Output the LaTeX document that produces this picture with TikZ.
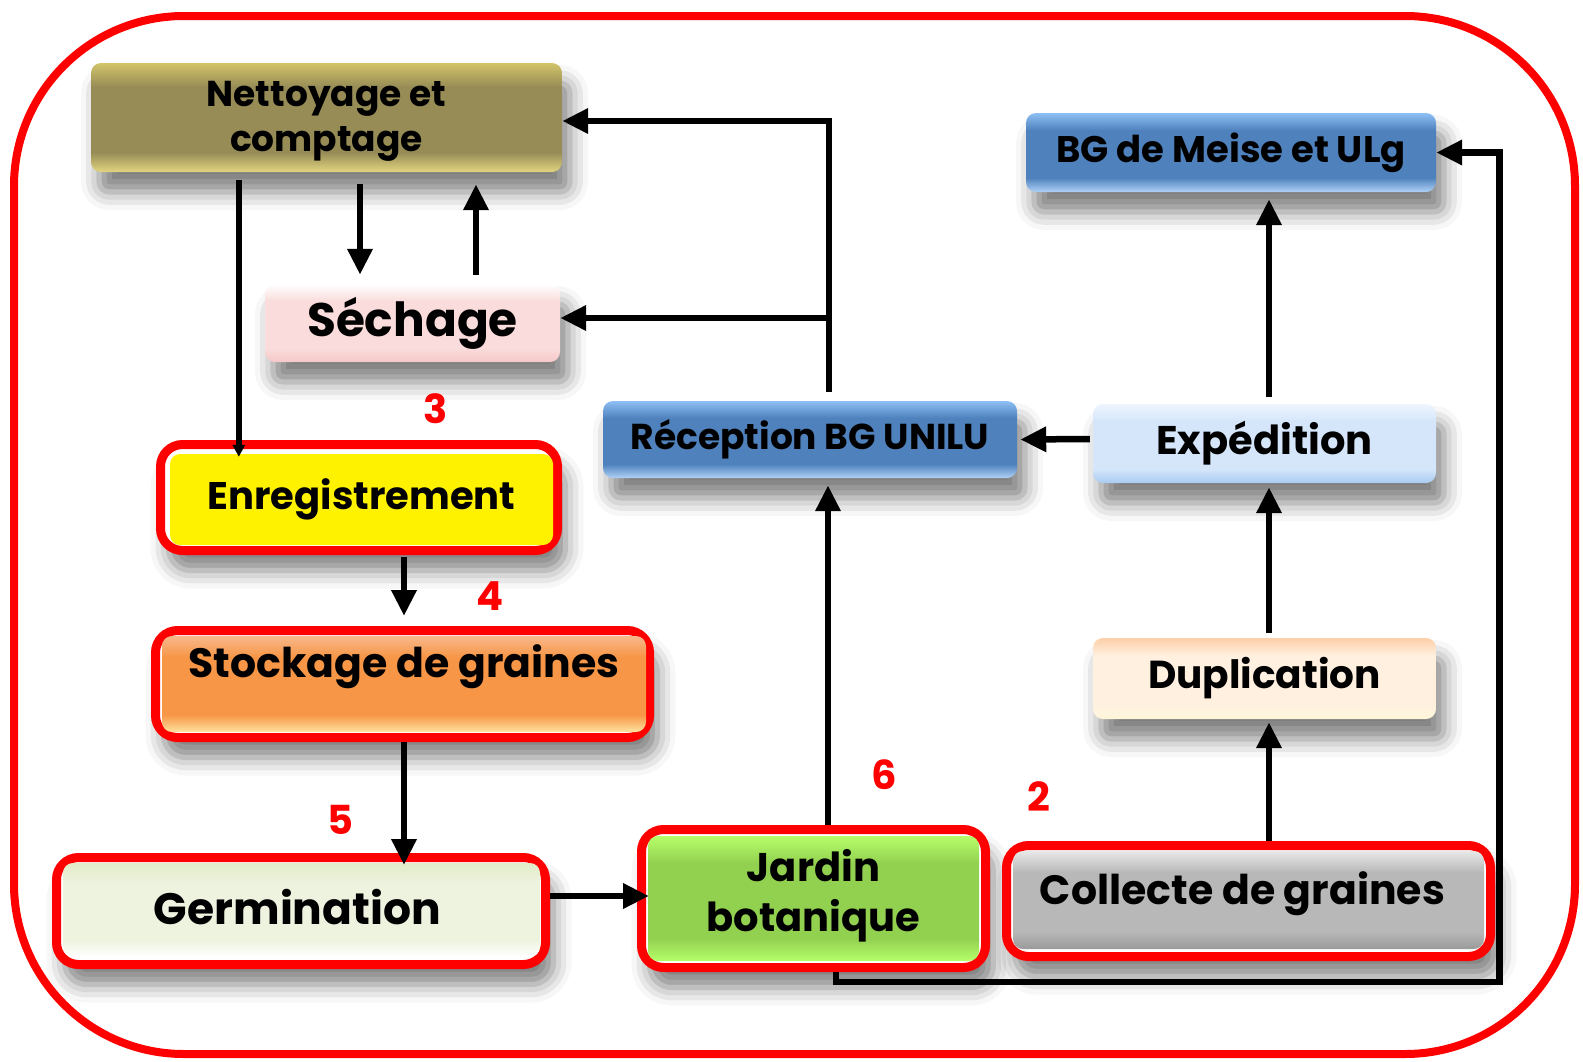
\documentclass[tikz,border=0pt]{standalone}
\usepackage{fontspec}
\setmainfont{Poppins}
\usetikzlibrary{arrows.meta,calc,shadows.blur}
\definecolor{olT}{HTML}{D2C46A}\definecolor{olM}{HTML}{978C56}\definecolor{olB}{HTML}{E2D680}
\definecolor{seT}{HTML}{FFFFFF}\definecolor{seM}{HTML}{FADCDC}\definecolor{seB}{HTML}{F6C8C8}
\definecolor{stT}{HTML}{F8B88C}\definecolor{stM}{HTML}{F79646}\definecolor{stB}{HTML}{FFE3A0}
\definecolor{geT}{HTML}{E2ECC8}\definecolor{geM}{HTML}{EEF3E0}\definecolor{geB}{HTML}{FFFFFF}
\definecolor{jaT}{HTML}{B6FF6A}\definecolor{jaM}{HTML}{92D050}\definecolor{jaB}{HTML}{B6FF6A}
\definecolor{coT}{HTML}{E8E8E8}\definecolor{coM}{HTML}{B8B8B8}\definecolor{coB}{HTML}{9A9A9A}
\definecolor{blT}{HTML}{8EC0F5}\definecolor{blM}{HTML}{4F81BD}\definecolor{blB}{HTML}{B0D2F7}
\definecolor{exT}{HTML}{EEF5FF}\definecolor{exM}{HTML}{D5E6FA}\definecolor{exB}{HTML}{A9CBF2}
\definecolor{duT}{HTML}{FCCFA8}\definecolor{duM}{HTML}{FFF0E0}\definecolor{duB}{HTML}{FFF6DA}
\definecolor{pred}{HTML}{FF0000}
\newcommand\glossyshade[4]{\pgfdeclareverticalshading{#1}{100bp}{color(0bp)=(#4); color(25bp)=(#4); color(34bp)=(#3); color(64bp)=(#3); color(75bp)=(#2); color(100bp)=(#2)}}
\glossyshade{shNet}{olT}{olM}{olB}
\glossyshade{shSech}{seT}{seM}{seB}
\glossyshade{shSto}{stT}{stM}{stB}
\glossyshade{shGer}{geT}{geM}{geB}
\glossyshade{shJar}{jaT}{jaM}{jaB}
\glossyshade{shCol}{coT}{coM}{coB}
\glossyshade{shBlue}{blT}{blM}{blB}
\glossyshade{shExp}{exT}{exM}{exB}
\glossyshade{shDup}{duT}{duM}{duB}
\tikzset{
  shad/.style={blur shadow={shadow xshift=8pt, shadow yshift=-20pt, shadow blur radius=18pt, shadow opacity=50}},
  box/.style={rounded corners=10pt, inner sep=0pt, align=center, shad},
  frame/.style={draw=pred, line width=9pt, fill=white, rounded corners=22pt, inner sep=0pt, shad},
  inbox/.style={rounded corners=10pt, inner sep=0pt, align=center},
  fs/.style={font=\bfseries\fontsize{#1}{#1}\selectfont},
  fstwo/.style 2 args={font=\bfseries\fontsize{#1}{#2}\selectfont, align=center, inner sep=0pt},
  arr/.style={line width=6.5pt, -{Triangle[length=26pt,width=24pt]}},
  thinarr/.style={line width=6pt, -{Triangle[length=12pt,width=12pt]}},
  num/.style={text=pred, font=\bfseries\fontsize{40}{40}\selectfont, inner sep=0pt}
}
\begin{document}
\begin{tikzpicture}[x=1pt,y=-1pt]
\useasboundingbox (0,0) rectangle (1583,1061);
\node[draw=pred, line width=8pt, rounded corners=170pt, minimum width=1561pt, minimum height=1038pt, inner sep=0pt] (outer) at (794.5,535) {};

% plain boxes
\node[box, minimum width=471pt, minimum height=109pt, shading=shNet] (net) at (326.5,117.5) {};
\node[fstwo={36}{45}] (nett) at ($(net.center)+(0,4)$) {Nettoyage et\\comptage};
\node[box, minimum width=295pt, minimum height=78pt, shading=shSech, fs=47] (sech) at (412.5,323) {Séchage};
\node[box, minimum width=414pt, minimum height=77pt, shading=shBlue, fs=36] (rec) at (810,439.5) {Réception BG UNILU};
\node[box, minimum width=343pt, minimum height=79pt, shading=shExp, fs=40] (exp) at (1264.5,443.5) {Expédition};
\node[box, minimum width=410pt, minimum height=79pt, shading=shBlue, fs=37] (bgm) at (1231,152.5) {BG de Meise et ULg};
\node[box, minimum width=343pt, minimum height=81pt, shading=shDup, fs=39] (dup) at (1264.5,678.5) {Duplication};

% framed boxes
\node[frame, minimum width=397pt, minimum height=106pt] (enr) at (359,497.5) {};
\node[inbox, minimum width=383pt, minimum height=91pt, fill=yellow, fs=38.5] (enrin) at (361.5,499.5) {Enregistrement};

\node[frame, minimum width=494pt, minimum height=107pt] (sto) at (402.5,684) {};
\node[inbox, minimum width=484pt, minimum height=96pt, shading=shSto] (stoin) at (404,684) {};
\node[fs=41, inner sep=0pt] (stot) at ($(stoin.center)+(0,-17)$) {Stockage de graines};

\node[frame, minimum width=489pt, minimum height=107pt] (ger) at (301,911) {};
\node[inbox, minimum width=477pt, minimum height=94pt, shading=shGer] (gerin) at (301.5,910) {};
\node[fs=44, inner sep=0pt] (gert) at ($(gerin.center)+(-4,-3)$) {Germination};

\node[frame, minimum width=344pt, minimum height=138pt] (jar) at (813.5,898.5) {};
\node[inbox, minimum width=331pt, minimum height=125pt, shading=shJar] (jarin) at (813.5,898.5) {};
\node[fstwo={40}{50}] (jart) at ($(jarin.center)+(0,-3)$) {Jardin\\botanique};

\node[frame, minimum width=484pt, minimum height=111pt] (col) at (1248.5,901) {};
\node[inbox, minimum width=471pt, minimum height=98pt, shading=shCol] (colin) at (1248.5,900) {};
\node[fs=41, inner sep=0pt] (colt) at ($(colin.center)+(-6,-6)$) {Collecte de graines};

% numbers
\node[num] (n3) at (436,409) {3};
\node[num] (n4) at (490,596) {4};
\node[num] (n5) at (340,820) {5};
\node[num] (n6) at (884,775) {6};
\node[num] (n2) at (1039,797) {2};

% connectors
\draw[thinarr] ($(net.south west)+(148,8)$) -- ($(enrin.north west)+(69,3)$);
\draw[arr] ($(net.south)+(33.5,12)$) -- ($(sech.north)+(-52.5,-9)$);
\draw[arr] ($(sech.north)+(63.5,-9)$) -- ($(net.south)+(149.5,12)$);
\coordinate (rtop) at ($(rec.north)+(19,-9)$);
\draw[arr] (rtop) |- ($(net.east)+(0,3.5)$);
\draw[arr] (rtop) |- ($(sech.east)+(0,-5)$);
\draw[arr] ($(enr.south)+(45,2)$) -- ($(sto.north)+(1.5,-10)$);
\draw[arr] ($(sto.south)+(1.5,0)$) -- ($(ger.north)+(103,12)$);
\draw[arr] ($(ger.east)+(0,-15)$) -- ($(jar.west)+(12,-2.5)$);
\draw[arr] ($(jar.north)+(14.5,0)$) -- ($(rec.south)+(18,7)$);
\draw[arr] ($(exp.west)+(-3,-4.5)$) -- ($(rec.east)+(3,0)$);
\draw[arr] ($(exp.north)+(4.5,-7)$) -- ($(bgm.south)+(38,7)$);
\draw[arr] ($(dup.north)+(4.5,-5)$) -- ($(exp.south)+(4.5,4)$);
\draw[arr] ($(col.north)+(20.5,0)$) -- ($(dup.south)+(4.5,3)$);
\coordinate (loopR) at ($(col.east)+(4.5,0)$);
\draw[arr] ($(jar.south)+(22.5,0)$) -- ++(0,10) -| (loopR) |- (bgm.east);
\end{tikzpicture}
\end{document}
